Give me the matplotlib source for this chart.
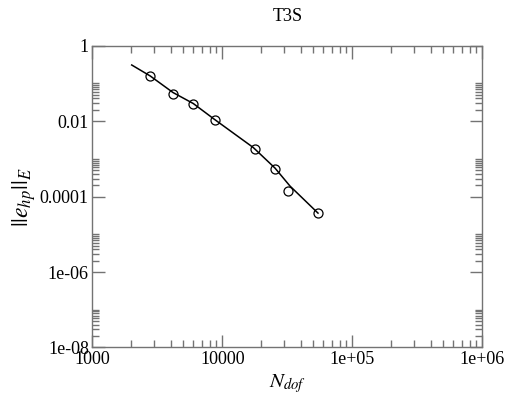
import matplotlib
matplotlib.use('Agg')
import matplotlib.pyplot as plt
from matplotlib.ticker import FixedLocator, FixedFormatter, NullFormatter

plt.rcParams['font.family'] = ['Liberation Serif', 'DejaVu Serif']
plt.rcParams['mathtext.fontset'] = 'stix'

# measured points (open circles)
n_dof = [2794, 4200, 5920, 8786, 17750, 25430, 32190, 54470]
err = [0.157, 0.0523, 0.0289, 0.0109, 0.00179, 5.27e-4, 1.43e-4, 3.58e-5]

# fitted curve
fit_n = [2010, 2794, 4175, 5983, 8636, 12300, 17320, 25430, 33180, 54470]
fit_err = [0.308, 0.157, 0.0574, 0.0293, 0.01137, 0.00469, 0.001994, 5.70e-4, 1.90e-4, 3.65e-5]

# ticks
x_major = [1e3, 1e4, 1e5, 1e6]
x_labels = ['1000', '10000', '1e+05', '1e+06']
y_major = [1, 1e-2, 1e-4, 1e-6, 1e-8]
y_labels = ['1', '0.01', '0.0001', '1e-06', '1e-08']

fig = plt.figure(figsize=(5.08, 3.96), dpi=100)
ax = fig.add_axes([0.1817, 0.1225, 0.7677, 0.7621])

ax.plot(fit_n, fit_err, color='black', lw=1.1)
ax.plot(n_dof, err, 'o', mfc='none', mec='black', ms=6.5, mew=0.9)

ax.set_xscale('log')
ax.set_yscale('log')
ax.set_xlim(1e3, 1e6)
ax.set_ylim(1e-8, 1)

ax.xaxis.set_major_locator(FixedLocator(x_major))
ax.xaxis.set_major_formatter(FixedFormatter(x_labels))
x_minor = [k * 10 ** e for e in range(3, 6) for k in range(2, 10)]
ax.xaxis.set_minor_locator(FixedLocator(x_minor))
ax.xaxis.set_minor_formatter(NullFormatter())

ax.yaxis.set_major_locator(FixedLocator(y_major))
ax.yaxis.set_major_formatter(FixedFormatter(y_labels))
y_minor = [k * 10.0 ** e for e in (-2, -4, -6, -8) for k in range(2, 11)]
ax.yaxis.set_minor_locator(FixedLocator(y_minor))
ax.yaxis.set_minor_formatter(NullFormatter())

for s in ax.spines.values():
    s.set_color('0.45')
    s.set_linewidth(1)
ax.tick_params(which='both', direction='in', top=True, right=True,
               color='0.45', labelsize=13, pad=2.5)
ax.tick_params(which='major', length=9, width=1)
ax.tick_params(which='minor', length=5, width=1)

ax.set_xlabel(r'$N_{dof}$', fontsize=15, labelpad=3)
ax.set_ylabel(r'$||e_{hp}||_E$', fontsize=17, labelpad=1)
ax.set_title('T3S', fontsize=13, pad=18)

fig.savefig('out.png', dpi=100)
